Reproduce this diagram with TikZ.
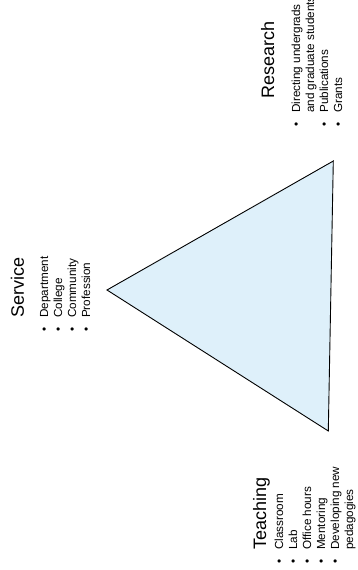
\documentclass[tikz,border=0pt]{standalone}
\usepackage{fontspec}
\setmainfont{Liberation Sans}
\definecolor{trifill}{RGB}{222,240,250}
\newcommand\bul{\llap{\textbullet\hspace{10pt}}}
\begin{document}
\begin{tikzpicture}[x=1pt,y=1pt,
  titletext/.style={rotate=90, anchor=base west, inner sep=0pt,
    font=\fontsize{18}{21}\selectfont},
  bullettext/.style={rotate=90, anchor=base west, inner sep=0pt,
    font=\fontsize{11.7}{14}\selectfont}]
\useasboundingbox (0,0) rectangle (357,570);
% triangle
\coordinate (apex) at (107,280);
\coordinate (tr) at (333.3,409);
\coordinate (br) at (328.3,139);
\filldraw[fill=trifill, draw=black, line width=0.9pt, line join=miter] (apex) -- (tr) -- (br) -- cycle;
% titles
\node[titletext] (research) at (274,471) {Research};
\node[titletext] (service) at (24,252) {Service};
\node[titletext] (teaching) at (266,20) {Teaching};
% lists
\node[bullettext] (researchlist) at (300,457) {\begin{tabular}[t]{@{}l@{}}
\bul Directing undergrads\\
and graduate students\\
\bul Publications\\
\bul Grants
\end{tabular}};
\node[bullettext] (servicelist) at (48,252) {\begin{tabular}[t]{@{}l@{}}
\bul Department\\
\bul College\\
\bul Community\\
\bul Profession
\end{tabular}};
\node[bullettext] (teachinglist) at (283,20) {\begin{tabular}[t]{@{}l@{}}
\bul Classroom\\
\bul Lab\\
\bul Office hours\\
\bul Mentoring\\
\bul Developing new\\
pedagogies
\end{tabular}};
\end{tikzpicture}
\end{document}
